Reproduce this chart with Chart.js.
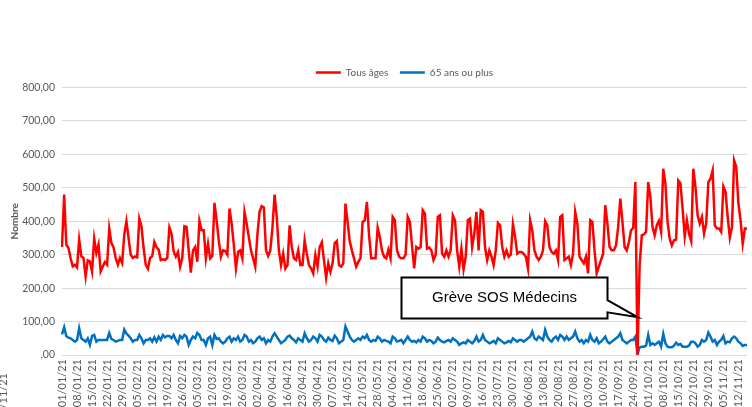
<!DOCTYPE html>
<html>
<head>
<meta charset="utf-8">
<script src="https://cdn.jsdelivr.net/npm/chart.js@4.4.0/dist/chart.umd.min.js"></script>
<style>
  html, body { margin: 0; padding: 0; background: #fff; }
  #wrap { position: relative; width: 752px; height: 407px; }
</style>
</head>
<body>
<div id="wrap"><canvas id="sosChart"></canvas></div>
<script>
// weekly tick labels (one every 7 days from 01/01/21)
const tickLabels = ['01/01/21', '08/01/21', '15/01/21', '22/01/21', '29/01/21', '05/02/21', '12/02/21', '19/02/21',
    '26/02/21', '05/03/21', '12/03/21', '19/03/21', '26/03/21', '02/04/21', '09/04/21', '16/04/21', '23/04/21',
    '30/04/21', '07/05/21', '14/05/21', '21/05/21', '28/05/21', '04/06/21', '11/06/21', '18/06/21', '25/06/21',
    '02/07/21', '09/07/21', '16/07/21', '23/07/21', '30/07/21', '06/08/21', '13/08/21', '20/08/21', '27/08/21',
    '03/09/21', '10/09/21', '17/09/21', '24/09/21', '01/10/21', '08/10/21', '15/10/21', '22/10/21', '29/10/21',
    '05/11/21', '12/11/21'];

// daily counts, all ages
const tousAges = [
    323, 480, 330, 320, 290, 265, 270, 262, 345, 295, 290, 235, 283, 280, 250,
    348, 305, 330, 250, 265, 278, 270, 378, 335, 322, 290, 270, 290, 275,
    360, 400, 350, 300, 290, 295, 292, 408, 385, 320, 270, 258, 290, 295,
    338, 322, 315, 284, 286, 284, 290, 381, 363, 310, 294, 308, 264, 290,
    385, 383, 313, 246, 313, 323, 279, 401, 373, 373, 289, 333, 289, 296,
    455, 403, 343, 294, 313, 311, 300, 438, 393, 330, 259, 308, 313, 289,
    428, 393, 353, 313, 289, 264, 360, 428, 445, 441, 313, 296, 313, 380,
    480, 413, 313, 269, 303, 259, 269, 388, 323, 289, 284, 313, 269, 269,
    343, 303, 269, 259, 244, 299, 264, 323, 337, 284, 231, 274, 249, 274,
    335, 341, 269, 264, 274, 453, 398, 340, 313, 289, 264, 279, 289, 398,
    403, 458, 358, 289, 289, 289, 381, 353, 313, 294, 289, 315, 289, 413,
    403, 313, 294, 289, 289, 300, 413, 398, 328, 259, 323, 318, 323, 433,
    423, 318, 321, 313, 284, 300, 413, 418, 303, 294, 313, 294, 313, 418,
    403, 313, 264, 318, 256, 294, 403, 408, 323, 363, 428, 313, 433, 428,
    323, 284, 313, 294, 269, 313, 395, 388, 323, 294, 313, 294, 300, 391,
    353, 303, 308, 308, 303, 294, 259, 403, 373, 313, 294, 284, 294, 313,
    400, 388, 323, 308, 303, 313, 284, 413, 418, 284, 289, 294, 269, 303,
    428, 393, 294, 284, 274, 294, 244, 403, 398, 313, 244, 264, 284, 303,
    448, 393, 323, 313, 313, 328, 383, 468, 398, 323, 313, 338, 373, 380,
    517, 0, 270, 358, 361, 368, 517, 473, 383, 358, 388, 401, 368, 557,
    512, 398, 348, 328, 343, 345, 522, 514, 438, 355, 403, 363, 341, 557,
    502, 418, 393, 413, 363, 393, 517, 527, 552, 388, 378, 378, 368, 504,
    488, 413, 351, 383, 582, 562, 453, 403, 333, 378, 378
];

// daily counts, 65 years or older
const plus65 = [
    62, 83, 57, 52, 50, 45, 40, 45, 80, 50, 45, 40, 50, 30, 57,
    60, 40, 45, 45, 45, 45, 45, 66, 48, 45, 40, 42, 45, 45,
    76, 64, 58, 50, 40, 45, 45, 60, 50, 35, 45, 45, 50, 40,
    53, 40, 55, 45, 60, 53, 57, 57, 50, 60, 45, 35, 57, 50,
    60, 55, 30, 45, 55, 50, 66, 60, 45, 45, 30, 50, 55, 30,
    60, 48, 50, 40, 35, 40, 50, 55, 40, 50, 45, 55, 40, 45,
    60, 55, 40, 45, 35, 40, 50, 55, 45, 50, 35, 45, 40, 55,
    65, 55, 45, 35, 40, 45, 55, 58, 50, 45, 38, 50, 45, 40,
    65, 50, 40, 45, 55, 50, 40, 60, 55, 45, 40, 52, 45, 42,
    58, 50, 35, 40, 45, 85, 70, 55, 45, 40, 45, 50, 45, 55,
    50, 60, 45, 40, 45, 42, 55, 50, 40, 45, 42, 40, 35, 55,
    50, 40, 42, 45, 35, 45, 55, 45, 40, 42, 38, 45, 40, 55,
    50, 40, 45, 42, 35, 40, 52, 45, 40, 38, 42, 45, 40, 50,
    45, 40, 30, 35, 38, 35, 45, 40, 35, 42, 55, 40, 45, 60,
    45, 40, 35, 38, 42, 35, 50, 45, 40, 35, 38, 42, 38, 50,
    45, 40, 45, 45, 40, 45, 50, 55, 70, 50, 45, 55, 50, 45,
    75, 55, 45, 40, 50, 55, 45, 60, 55, 45, 55, 45, 50, 55,
    70, 50, 40, 45, 35, 45, 40, 60, 45, 40, 50, 35, 40, 47,
    55, 40, 35, 40, 45, 50, 55, 65, 45, 40, 35, 40, 45, 45,
    55, 3, 23, 25, 25, 28, 60, 30, 35, 30, 35, 40, 25, 63,
    35, 25, 23, 23, 28, 37, 30, 33, 25, 25, 25, 28, 40, 40,
    35, 25, 30, 45, 40, 45, 67, 55, 40, 45, 30, 40, 45, 57,
    35, 40, 38, 50, 55, 50, 40, 35, 27, 30, 30
];

// one category per day, only every 7th day carries a label
const days = tousAges.map((v, i) => (i % 7 === 0 && tickLabels[i / 7]) ? tickLabels[i / 7] : '');

// callout, in data units (day index / value)
const callout = { text: 'Grève SOS Médecins', left: 158, right: 254, top: 233, bottom: 110, tipDay: 268, tipValue: 113 };

const calloutPlugin = {
    id: 'callout',
    afterDatasetsDraw(chart) {
        const ctx = chart.ctx;
        const xs = chart.scales.x, ys = chart.scales.y;
        const l = Math.round(xs.getPixelForValue(callout.left)) + 0.5;
        const r = Math.round(xs.getPixelForValue(callout.right)) + 0.5;
        const t = Math.round(ys.getPixelForValue(callout.top)) + 0.5;
        const b = Math.round(ys.getPixelForValue(callout.bottom)) + 0.5;
        const tx = xs.getPixelForValue(callout.tipDay);
        const ty = ys.getPixelForValue(callout.tipValue);
        const h = b - t;
        ctx.save();
        ctx.beginPath();
        ctx.moveTo(l, t);
        ctx.lineTo(r, t);
        ctx.lineTo(r, t + h * 0.55);
        ctx.lineTo(tx, ty);
        ctx.lineTo(r, t + h * 0.85);
        ctx.lineTo(r, b);
        ctx.lineTo(l, b);
        ctx.closePath();
        ctx.fillStyle = '#fff';
        ctx.fill();
        ctx.lineWidth = 2;
        ctx.strokeStyle = '#000';
        ctx.stroke();
        ctx.fillStyle = '#000';
        ctx.font = '15px "Liberation Sans", Arial, sans-serif';
        ctx.textAlign = 'center';
        ctx.textBaseline = 'middle';
        ctx.fillText(callout.text, (l + r) / 2, (t + b) / 2);
        ctx.restore();
    }
};

// legend sits centred over the plot area rather than the whole canvas
const legendShift = {
    id: 'legendShift',
    afterLayout(chart) {
        const lg = chart.legend;
        if (!lg) return;
        const dx = (chart.chartArea.left + chart.chartArea.right) / 2 - (lg.left + lg.right) / 2;
        lg.left += dx;
        lg.right += dx;
        if (lg.legendHitBoxes) lg.legendHitBoxes.forEach(function (h) { h.left += dx; });
    }
};

// stray clipped label at the bottom-left corner of the original picture
const strayLabel = {
    id: 'strayLabel',
    afterDraw(chart) {
        const ctx = chart.ctx;
        ctx.save();
        ctx.translate(3, 373);
        ctx.rotate(-Math.PI / 2);
        ctx.font = '11px Lato, sans-serif';
        ctx.fillStyle = '#595959';
        ctx.textAlign = 'right';
        ctx.textBaseline = 'middle';
        ctx.fillText(tickLabels[tickLabels.length - 1], 0, 0);
        ctx.restore();
    }
};

document.addEventListener('DOMContentLoaded', function () {
    const canvas = document.getElementById('sosChart');
    const ctx = canvas.getContext('2d');

    canvas.chart = new Chart(ctx, {
        type: 'line',
        data: {
            labels: days,
            datasets: [{
                label: 'Tous âges',
                data: tousAges,
                borderColor: '#ff0000',
                backgroundColor: '#ff0000',
                borderWidth: 2.5,
                pointRadius: 0,
                tension: 0
            }, {
                label: '65 ans ou plus',
                data: plus65,
                borderColor: '#0070c0',
                backgroundColor: '#0070c0',
                borderWidth: 2.5,
                pointRadius: 0,
                tension: 0
            }]
        },
        options: {
            animation: false,
            responsive: true,
            maintainAspectRatio: false,
            devicePixelRatio: 1,
            layout: { padding: { top: 56, right: 5, left: 0, bottom: 0 } },
            scales: {
                x: {
                    type: 'category',
                    offset: false,
                    grid: { display: false, drawTicks: false },
                    border: { display: false },
                    afterFit: function (scale) {
                        scale.height = 52;
                        scale.paddingRight = 0;
                        scale.paddingLeft = 0;
                    },
                    ticks: {
                        autoSkip: false,
                        maxRotation: 90,
                        minRotation: 90,
                        padding: 4,
                        color: '#595959',
                        font: { family: 'Lato', size: 11 }
                    }
                },
                y: {
                    min: 0,
                    max: 800,
                    afterFit: function (scale) { scale.width = 62; },
                    grid: { color: '#d9d9d9', drawTicks: false },
                    border: { display: false },
                    title: {
                        display: true,
                        text: 'Nombre',
                        color: '#595959',
                        font: { family: 'Lato', size: 10, weight: 'bold' },
                        padding: { top: 9, bottom: 0 }
                    },
                    ticks: {
                        stepSize: 100,
                        padding: 7,
                        color: '#595959',
                        font: { family: 'Lato', size: 10.5 },
                        callback: function (v) {
                            return v === 0 ? ',00' : v.toFixed(2).replace('.', ',');
                        }
                    }
                }
            },
            plugins: {
                legend: {
                    display: true,
                    position: 'top',
                    labels: {
                        usePointStyle: true,
                        pointStyle: 'line',
                        pointStyleWidth: 25,
                        boxHeight: 10,
                        padding: 11.5,
                        color: '#595959',
                        font: { family: 'Lato', size: 10 }
                    }
                },
                tooltip: { enabled: false }
            }
        },
        plugins: [calloutPlugin, legendShift, strayLabel]
    });
});
</script>
</body>
</html>
